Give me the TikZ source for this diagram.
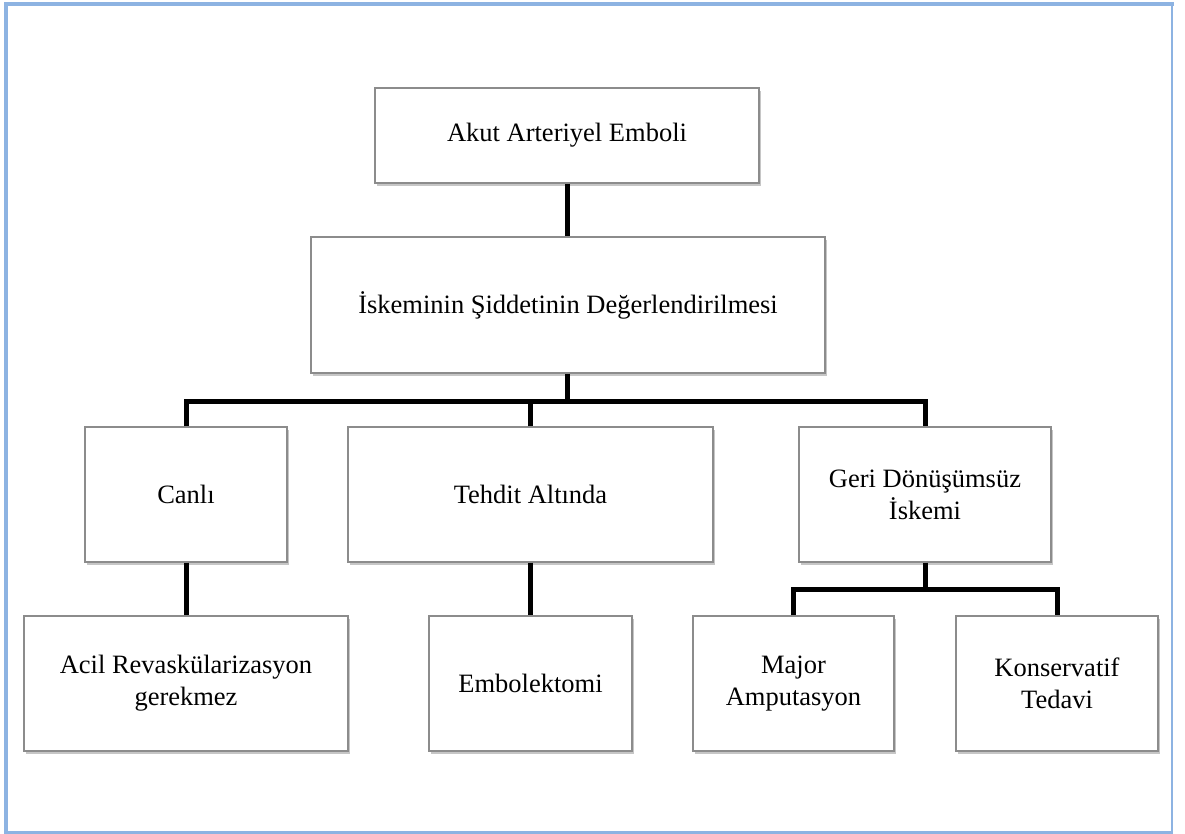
\documentclass[tikz,border=0pt]{standalone}
\usepackage{fontspec}
\setmainfont{Liberation Serif}
\usetikzlibrary{shadows}
\definecolor{framebl}{HTML}{8DB3E2}
\tikzset{
  box/.style={draw=black!45,line width=1.2pt,fill=white,align=center,
    inner sep=0pt,font=\fontsize{26.5pt}{32pt}\selectfont,
    drop shadow={shadow xshift=2pt,shadow yshift=-3pt,opacity=0.45}},
  conn/.style={line width=5pt,line join=miter}
}
\begin{document}
\begin{tikzpicture}[x=1pt,y=-1pt]
  \useasboundingbox (0,0) rectangle (1185,834);
  % frame
  \draw[framebl,line width=2.5pt] (1172,4) -- (1172,832.5) -- (6,832.5);
  \draw[framebl,line width=4pt] (6,834) -- (6,4.5) -- (1174,4.5);
  % boxes
  \node[box,minimum width=384,minimum height=95] (akut) at (567,135.5) {Akut Arteriyel Emboli};
  \node[box,minimum width=514,minimum height=136] (siddet) at (568,305) {İskeminin Şiddetinin Değerlendirilmesi};
  \node[box,minimum width=202,minimum height=135] (canli) at (186,494.5) {Canlı};
  \node[box,minimum width=365,minimum height=135] (tehdit) at (530.5,494.5) {Tehdit Altında};
  \node[box,minimum width=252,minimum height=135] (geri) at (925,494.5) {Geri Dönüşümsüz\\İskemi};
  \node[box,minimum width=324,minimum height=135] (acil) at (186,683.5) {Acil Revaskülarizasyon\\gerekmez};
  \node[box,minimum width=203,minimum height=135] (embol) at (530.5,683.5) {Embolektomi};
  \node[box,minimum width=201,minimum height=135] (major) at (793.5,683.5) {Major\\Amputasyon};
  \node[box,minimum width=202,minimum height=135] (konserv) at (1057,683.5) {Konservatif\\Tedavi};
  % connectors
  \coordinate (bar1) at (567,401);
  \coordinate (bar2) at (925,589);
  \draw[conn] (akut.south -| 567,0) -- (siddet.north -| 567,0);
  \draw[conn] (siddet.south -| bar1) -- (bar1);
  \draw[conn] (canli.north) |- (bar1) -| (geri.north);
  \draw[conn] (tehdit.north) -- (tehdit.north |- bar1);
  \draw[conn] (canli.south) -- (acil.north);
  \draw[conn] (tehdit.south) -- (embol.north);
  \draw[conn] (geri.south) -- (bar2);
  \draw[conn] (major.north) |- (bar2) -| (konserv.north);
\end{tikzpicture}
\end{document}
